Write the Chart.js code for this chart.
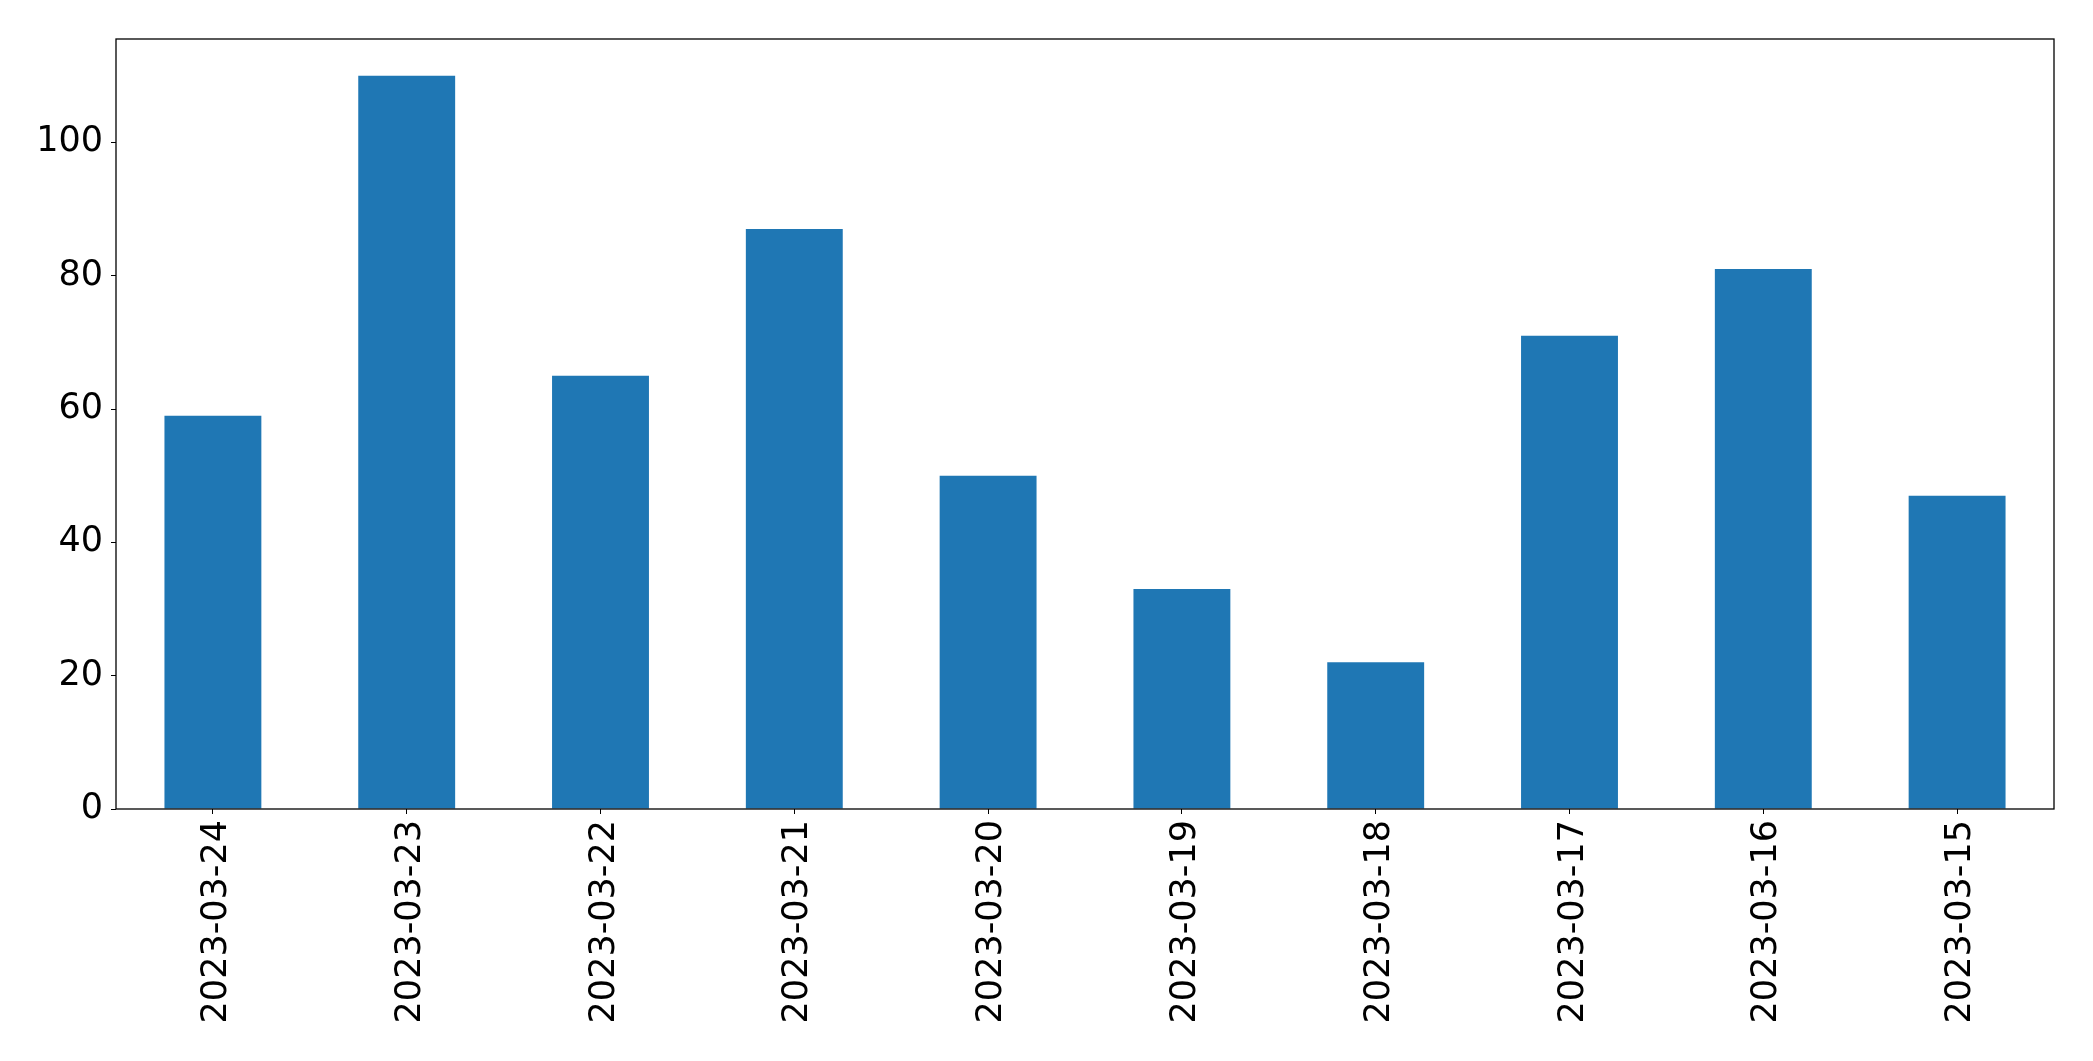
<!DOCTYPE html>
<html>
<head>
<meta charset="utf-8">
<script src="https://cdn.jsdelivr.net/npm/chart.js@4/dist/chart.umd.min.js"></script>
<style>
  html, body { margin: 0; padding: 0; background: #fff; }
  #wrap { width: 2093px; height: 1061px; }
</style>
</head>
<body>
<div id="wrap"><canvas id="barChart" width="2093" height="1061"></canvas></div>
<script>
// даты (по оси x) и значения столбцов
const dates = [
  "2023-03-24", "2023-03-23", "2023-03-22", "2023-03-21", "2023-03-20",
  "2023-03-19", "2023-03-18", "2023-03-17", "2023-03-16", "2023-03-15",
];
const counts = [59, 110, 65, 87, 50, 33, 22, 71, 81, 47];
const yTicks = [0, 20, 40, 60, 80, 100];

const tickFont = { family: "DejaVu Sans", size: 35 };

// рамка вокруг области графика
const frame = {
  id: "frame",
  afterDraw(chart) {
    const { ctx, chartArea: a } = chart;
    ctx.save();
    ctx.strokeStyle = "#000";
    ctx.lineWidth = 1.3;
    ctx.strokeRect(a.left, a.top, a.right - a.left, a.bottom - a.top);
    ctx.restore();
  },
};

new Chart(document.getElementById("barChart"), {
  type: "bar",
  data: {
    labels: dates,
    datasets: [
      {
        data: counts,
        backgroundColor: "#1f77b4",
        borderWidth: 0,
        barPercentage: 0.5,
        categoryPercentage: 1,
      },
    ],
  },
  options: {
    responsive: false,
    animation: false,
    layout: { padding: { top: 39, right: 39, left: 0, bottom: 0 } },
    plugins: { legend: { display: false }, tooltip: { enabled: false } },
    scales: {
      x: {
        grid: {
          display: true,
          offset: false,
          drawOnChartArea: false,
          drawTicks: true,
          tickLength: 5,
          color: "#000",
        },
        border: { display: false },
        ticks: {
          font: tickFont,
          color: "#000",
          minRotation: 90,
          maxRotation: 90,
          padding: 6,
          labelOffset: 4,
          autoSkip: false,
        },
        afterFit(scale) { scale.height = 252; },
      },
      y: {
        min: 0,
        max: 115.5,
        grid: { display: true, drawOnChartArea: false, drawTicks: true, tickLength: 5, color: "#000" },
        border: { display: false },
        ticks: {
          font: tickFont,
          color: "#000",
          padding: 8,
          includeBounds: false,
        },
        afterBuildTicks(scale) {
          scale.ticks = yTicks.map((v) => ({ value: v }));
        },
        afterFit(scale) { scale.width = 116; },
      },
    },
  },
  plugins: [frame],
});
</script>
</body>
</html>
